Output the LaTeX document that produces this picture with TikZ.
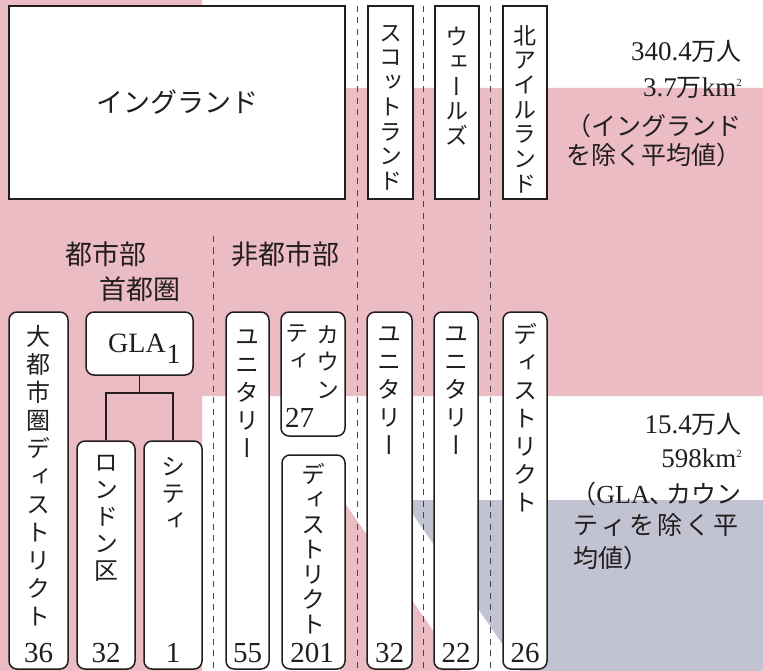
\documentclass[tikz,border=0pt]{standalone}
\usepackage{fontspec}
\newfontfamily\jp{Noto Sans CJK JP}
\newfontfamily\jpv[RawFeature={+vert}]{Noto Sans CJK JP}
\newfontfamily\nf{Liberation Serif}
\usetikzlibrary{calc}
\definecolor{ink}{RGB}{35,30,30}
\definecolor{pinkbg}{RGB}{235,188,195}
\definecolor{bluebg}{RGB}{193,195,211}
\definecolor{dashc}{RGB}{70,70,70}
\newcommand\lmf[1]{\nf\fontsize{#1}{#1}\selectfont}
\newcommand\jpf[1]{\jp\fontsize{#1}{#1}\selectfont}
\tikzset{
  sqbox/.style={draw=ink, line width=1.5pt, fill=white, inner sep=0pt},
  rbox/.style={sqbox, rounded corners=8pt},
  vt/.style 2 args={font=\jpv\fontsize{#1}{#2}\selectfont, align=center, inner sep=0pt, text=ink, anchor=north},
  num/.style={font=\lmf{29}, inner sep=0pt, text=ink, anchor=base},
  jlab/.style={font=\jp\fontsize{#1}{#1}\selectfont, inner sep=0pt, text=ink},
  rtext/.style={inner sep=0pt, text=ink, anchor=base east},
  ltext/.style={inner sep=0pt, text=ink, anchor=base west},
  sepline/.style={draw=dashc, line width=0.9pt, dash pattern=on 6pt off 5.5pt},
  conn/.style={draw=ink, line width=1.5pt},
}
\newcommand\mkbox[6]{\node[#1, minimum width={#5-#3}, minimum height={#6-#4}] (#2) at ({(#3+#5)/2},{(#4+#6)/2}) {};}
\begin{document}
\begin{tikzpicture}[x=1pt,y=-1pt]
\useasboundingbox (0,0) rectangle (763,671);
% backgrounds
\fill[pinkbg] (0,0) -- (202,0) -- (202,88) -- (763,88) -- (763,396) -- (202,396) -- (202,671) -- (0,671) -- cycle;
\fill[pinkbg] (340,496) -- (461,671) -- (340,671) -- cycle;
\fill[bluebg] (403,500) -- (763,500) -- (763,671) -- (521,671) -- cycle;
% dashed separators
\draw[sepline] (357,6) -- (357,671);
\draw[sepline] (423,6) -- (423,671);
\draw[sepline] (490,6) -- (490,671);
\draw[sepline] (213,236) -- (213,671);
% top boxes
\mkbox{sqbox}{eng}{9}{6}{345}{199}
\mkbox{sqbox}{sco}{368}{6}{413}{199}
\mkbox{sqbox}{wal}{435}{6}{479}{199}
\mkbox{sqbox}{nir}{503}{6}{547}{199}
% lower boxes
\mkbox{rbox}{metro}{9}{312}{68}{669}
\mkbox{rbox}{gla}{86}{312}{193}{375}
\mkbox{rbox}{lon}{77}{441}{135}{669}
\mkbox{rbox}{city}{144}{441}{202}{669}
\mkbox{rbox}{uni}{226}{312}{269}{669}
\mkbox{rbox}{cty}{281}{312}{345}{436}
\mkbox{rbox}{dst}{282}{455}{345}{669}
\mkbox{rbox}{scu}{367}{312}{412}{669}
\mkbox{rbox}{wau}{434}{312}{478}{669}
\mkbox{rbox}{nid}{503}{312}{547}{669}
% tree connector
\coordinate (br) at ($(gla.south)+(0,17)$);
\draw[conn] (gla.south) -- (br);
\draw[conn] (lon.north) |- (br) -| (city.north);
% horizontal labels
\node[jlab=27] (lEng) at (eng.center) {イングランド};
\node[jlab=27] (lUrb) at (106,254) {都市部};
\node[jlab=27] (lCap) at (140,289) {首都圏};
\node[jlab=27] (lNon) at (285,254) {非都市部};
% vertical labels top
\node[vt={23}{24.7}] (vSco) at (390.5,25) {ス\\コ\\ッ\\ト\\ラ\\ン\\ド};
\node[vt={23}{24.7}] (vWal) at (457,27) {ウ\\ェ\\ー\\ル\\ズ};
\node[vt={23}{24.7}] (vNir) at (525,25) {北\\ア\\イ\\ル\\ラ\\ン\\ド};
% vertical labels lower
\node[vt={24}{28}] (vMet) at (38.5,325) {大\\都\\市\\圏\\デ\\ィ\\ス\\ト\\リ\\ク\\ト};
\node[vt={24}{27}] (vLon) at (106,455) {ロ\\ン\\ド\\ン\\区};
\node[vt={24}{27}] (vCity) at (173,457) {シ\\テ\\ィ};
\node[vt={24}{28}] (vUni) at (247.5,330) {ユ\\ニ\\タ\\リ\\ー};
\node[vt={23}{27.5}] (vCty1) at (328,325) {カ\\ウ\\ン};
\node[vt={23}{27.5}] (vCty2) at (297,325) {テ\\ィ};
\node[vt={24}{25}] (vDst) at (313.5,463) {デ\\ィ\\ス\\ト\\リ\\ク\\ト};
\node[vt={24}{28}] (vScu) at (389.5,327) {ユ\\ニ\\タ\\リ\\ー};
\node[vt={24}{28}] (vWau) at (456,327) {ユ\\ニ\\タ\\リ\\ー};
\node[vt={24}{28}] (vNid) at (525,323) {デ\\ィ\\ス\\ト\\リ\\ク\\ト};
% GLA
\node[ltext, font=\lmf{28}] (lGla) at (108,352) {GLA\kern1pt\raisebox{-11pt}{1}};
% numbers
\node[num] (n1) at (38.5,662) {36};
\node[num] (n2) at (106,662) {32};
\node[num] (n3) at (173,662) {1};
\node[num] (n4) at (247.5,662) {55};
\node[num] (n5) at (312,662) {201};
\node[num] (n6) at (389.5,662) {32};
\node[num] (n7) at (456,662) {22};
\node[num] (n8) at (525,662) {26};
\node[ltext, font=\lmf{29}] (n9) at (285,427) {27};
% right texts upper
\node[rtext] (t1) at (742,60.5) {{\lmf{27}340.4}{\jpf{25}万人}};
\node[rtext] (t2) at (742,97) {{\lmf{27}3.7}{\jpf{25}万}{\lmf{27}km\raisebox{10pt}{\lmf{11}2}}};
\node[rtext, font=\jpf{25}] (t3) at (742,135.5) {（イングランド};
\node[rtext, font=\jpf{25}] (t4) at (742,164.5) {を除く平均値）};
% right texts lower
\node[rtext] (b1) at (742,433) {{\lmf{27}15.4}{\jpf{25}万人}};
\node[rtext] (b2) at (742,467) {{\lmf{27}598km\raisebox{10pt}{\lmf{11}2}}};
\node[rtext] (b3) at (742,503) {{\jpf{25}（}{\lmf{26}GLA}{\jpf{25}、\kern-8pt カウン}};
\node[ltext, font=\jpf{25}] (b4) at (573,534.5) {テ\kern3ptィ\kern3ptを\kern3pt除\kern3ptく\kern3pt平};
\node[ltext, font=\jpf{25}] (b5) at (573,567) {均値）};
\end{tikzpicture}
\end{document}
